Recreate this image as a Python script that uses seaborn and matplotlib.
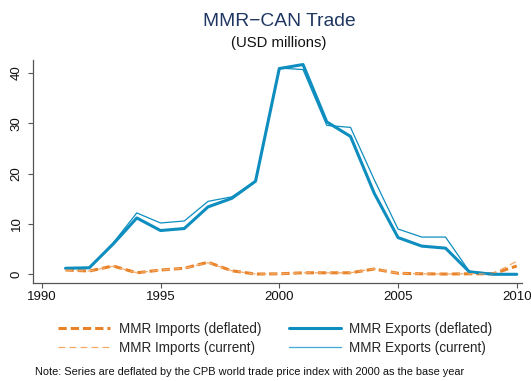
import matplotlib
matplotlib.use("Agg")
import matplotlib.pyplot as plt
import seaborn as sns
import pandas as pd
from matplotlib.lines import Line2D

# Annual trade values, USD millions
years = list(range(1991, 2011))
exports_deflated = [1.2, 1.3, 6.0, 11.2, 8.7, 9.1, 13.4, 15.1, 18.5, 40.9,
                    41.7, 30.3, 27.4, 16.1, 7.3, 5.6, 5.2, 0.5, 0.0, 0.0]
exports_current = [1.2, 1.3, 6.2, 12.2, 10.2, 10.6, 14.5, 15.4, 18.5, 41.0,
                   40.7, 29.6, 29.2, 18.8, 9.0, 7.4, 7.4, 0.6, 0.1, 0.1]
imports_deflated = [0.85, 0.65, 1.65, 0.3, 0.85, 1.2, 2.4, 0.7, 0.05, 0.1,
                    0.3, 0.3, 0.3, 1.05, 0.2, 0.1, 0.05, 0.1, 0.1, 1.65]
imports_current = [0.85, 0.65, 1.6, 0.3, 0.85, 1.2, 2.3, 0.7, 0.05, 0.1,
                   0.3, 0.3, 0.3, 1.1, 0.2, 0.1, 0.05, 0.1, 0.1, 2.6]

labels = ["MMR Imports (deflated)", "MMR Imports (current)",
          "MMR Exports (deflated)", "MMR Exports (current)"]
x_ticks = [1990, 1995, 2000, 2005, 2010]
y_ticks = [0, 10, 20, 30, 40]

title = "MMR\u2212CAN Trade"
subtitle = "(USD millions)"
note = "Note: Series are deflated by the CPB world trade price index with 2000 as the base year"

sns.set_style("ticks")
plt.rcParams["font.family"] = ["Liberation Sans", "DejaVu Sans"]

c_imp = "#E8832A"
c_imp_light = "#F4AA66"
c_exp = "#0E8EBF"
c_exp_light = "#3FA9D8"

df = pd.DataFrame({
    "year": years,
    labels[0]: imports_deflated,
    labels[1]: imports_current,
    labels[2]: exports_deflated,
    labels[3]: exports_current,
})

W, H = 531, 381
fig = plt.figure(figsize=(W / 100, H / 100), dpi=100)
ax = fig.add_axes([33 / W, 98 / H, 489 / W, 223 / H])

thick_dash = (0, (2.7, 1.3))
thin_dash = (0, (5.4, 3.4))
styles = {
    labels[0]: dict(color=c_imp, lw=2.2, ls=thick_dash, zorder=3),
    labels[1]: dict(color=c_imp_light, lw=0.9, ls=thin_dash, zorder=4),
    labels[2]: dict(color=c_exp, lw=2.2, ls="-", zorder=3),
    labels[3]: dict(color=c_exp, lw=0.9, ls="-", zorder=4),
}
for lab in labels:
    st = styles[lab]
    sns.lineplot(data=df, x="year", y=lab, ax=ax, color=st["color"],
                 linewidth=st["lw"], linestyle=st["ls"], zorder=st["zorder"],
                 legend=False)

ax.set_xticks(x_ticks)
ax.set_yticks(y_ticks)
ax.set_xlim(1989.63, 2010.22)
ax.set_ylim(-1.73, 42.6)
ax.set_xlabel("")
ax.set_ylabel("")
for s in ["top", "right"]:
    ax.spines[s].set_visible(False)
for s in ["left", "bottom"]:
    ax.spines[s].set_color("#555555")
    ax.spines[s].set_linewidth(0.9)
ax.tick_params(axis="both", length=3.5, width=0.8, color="#555555",
               labelsize=9.5, labelcolor="#111111")
ax.tick_params(axis="x", pad=2.5)
ax.tick_params(axis="y", pad=4, labelrotation=90)
for t in ax.get_yticklabels():
    t.set_va("center")

cx = 279 / W
fig.text(cx, 1 - 21 / H, title, ha="center", va="center",
         fontsize=13.85, color="#1F3760")
fig.text(cx, 1 - 43 / H, subtitle, ha="center", va="center",
         fontsize=10.7, color="#111111")

handles = [
    Line2D([], [], color=c_imp, lw=2.2, ls=thick_dash),
    Line2D([], [], color=c_imp_light, lw=0.9, ls=thin_dash),
    Line2D([], [], color=c_exp, lw=2.2, ls="-"),
    Line2D([], [], color=c_exp_light, lw=0.9, ls="-"),
]
fig.legend(handles, labels, ncol=2, frameon=False, fontsize=9.75,
           loc="upper left", bbox_to_anchor=(58.3 / W, 1 - 321.5 / H),
           handlelength=3.84, handletextpad=0.61, columnspacing=2.04,
           labelspacing=0.42, borderaxespad=0, borderpad=0)

fig.text(35 / W, 1 - 372 / H, note, ha="left", va="center",
         fontsize=7.9, color="#111111")

fig.savefig("out.png", dpi=100)
